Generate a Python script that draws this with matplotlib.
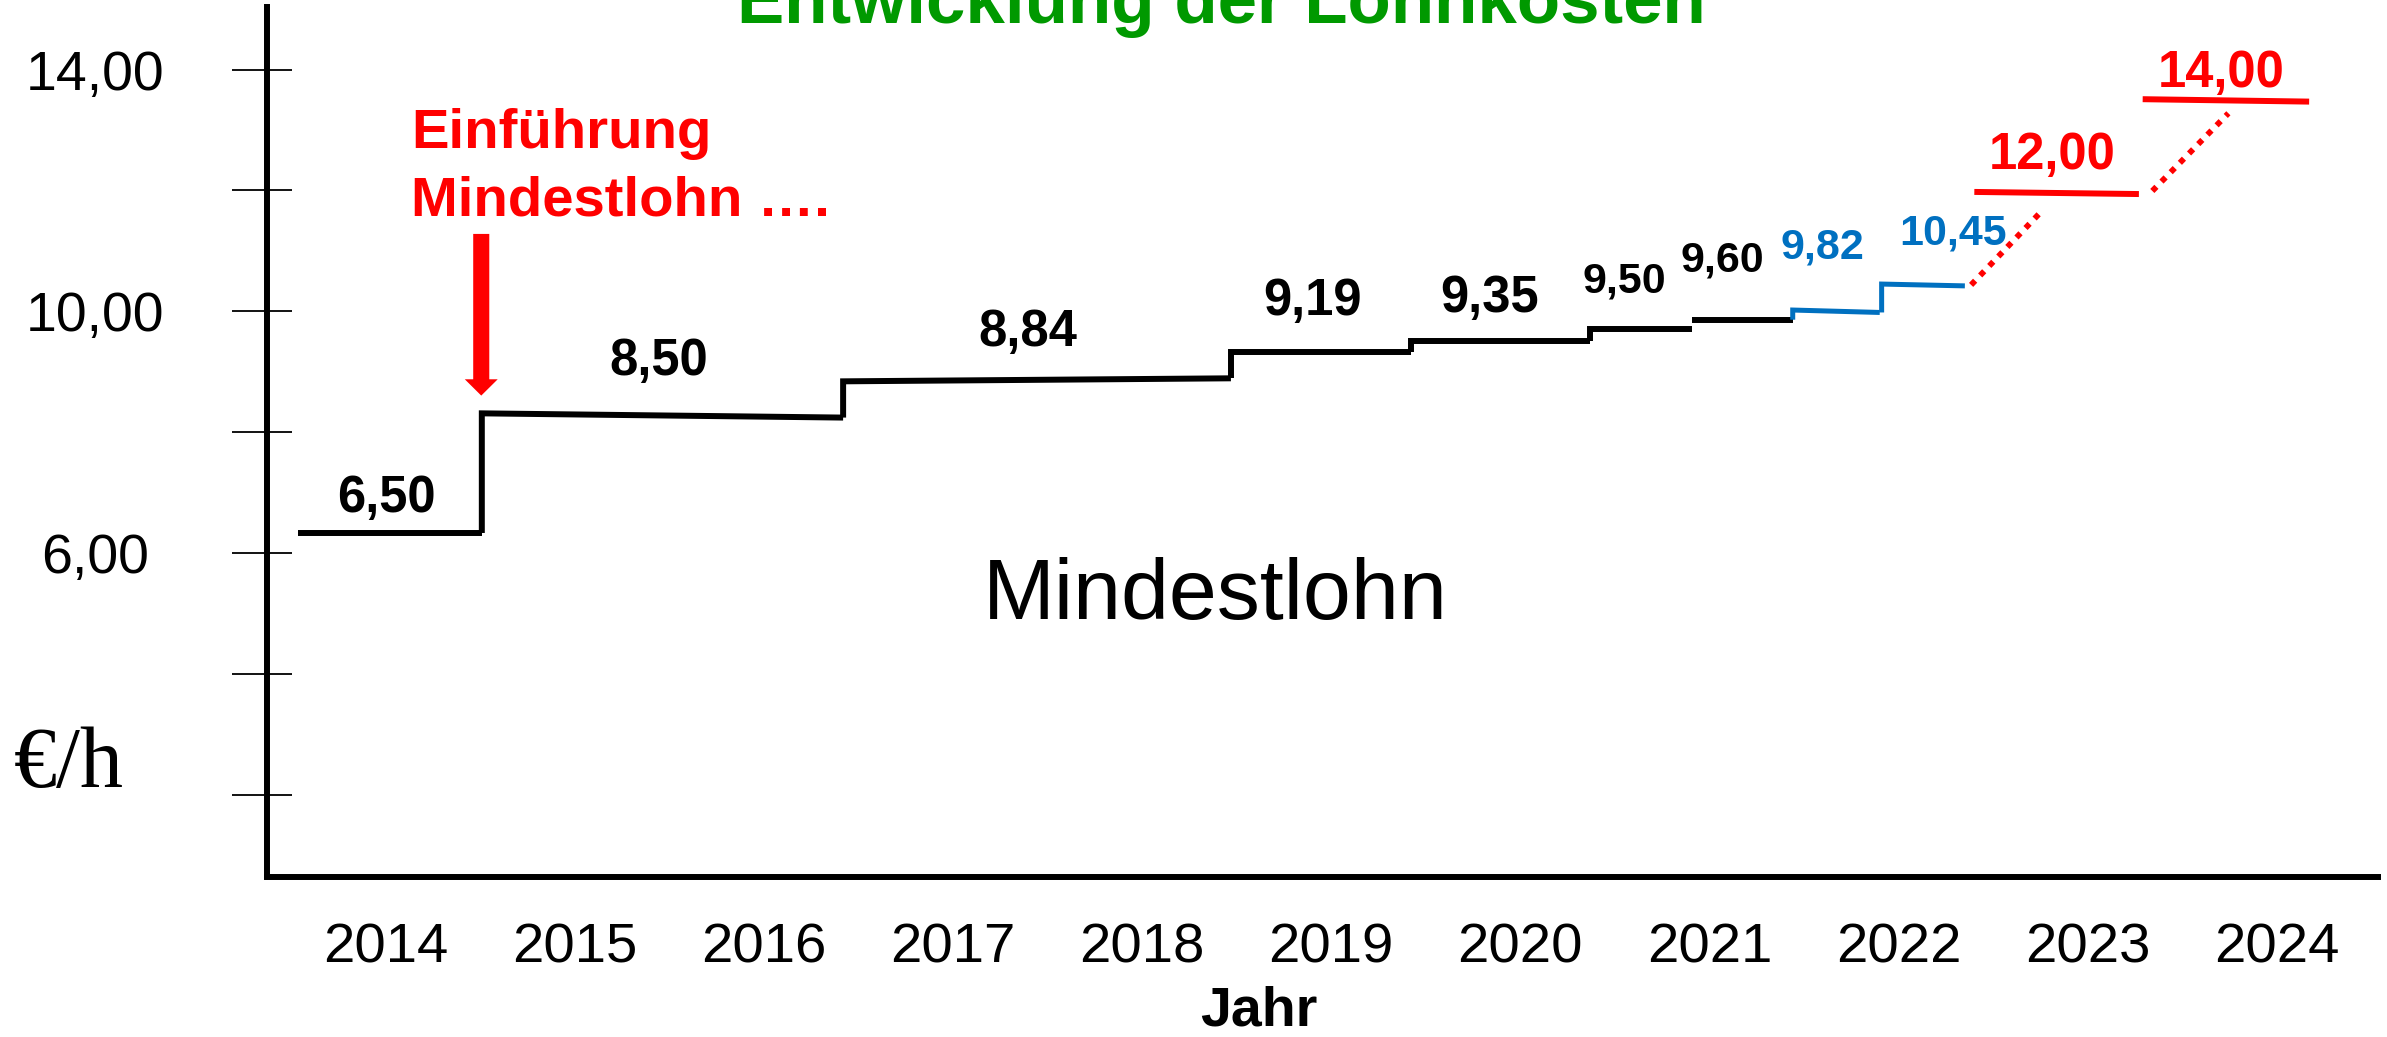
import matplotlib
matplotlib.use("Agg")
import matplotlib.pyplot as plt
import numpy as np

plt.rcParams['font.family'] = ['Liberation Sans', 'DejaVu Sans']

# ---------------- data ----------------
years = [2014, 2015, 2016, 2017, 2018, 2019, 2020, 2021, 2022, 2023, 2024]
year_labels = [str(y) for y in years]

# wage step segments (as drawn in the picture)
seg_x0 = [2013.54, 2014.51, 2016.42, 2018.47, 2019.42, 2020.37, 2020.91, 2021.44, 2021.91, 2022.40, 2023.29]
seg_x1 = [2014.51, 2016.42, 2018.47, 2019.42, 2020.37, 2020.91, 2021.44, 2021.90, 2022.35, 2023.27, 2024.17]
seg_y0 = [6.33, 8.31, 8.84, 9.33, 9.50, 9.71, 9.86, 10.02, 10.45, 11.975, 13.51]
seg_y1 = [6.33, 8.24, 8.89, 9.33, 9.50, 9.71, 9.86, 9.98, 10.42, 11.94, 13.47]
seg_joined = [False, True, True, True, True, True, False, True, True, False, False]
seg_group = ['past'] * 7 + ['recent'] * 2 + ['planned'] * 2
wage_labels = ['6,50', '8,50', '8,84', '9,19', '9,35', '9,50', '9,60', '9,82', '10,45', '12,00', '14,00']

# dotted ramps towards planned values
ramp_x0 = [2022.383, 2023.341]
ramp_x1 = [2022.762, 2023.743]
ramp_y0 = [10.436, 11.991]
ramp_y1 = [11.677, 13.277]

ytick_vals = [2, 4, 6, 8, 10, 12, 14]
ytick_labels = ['', '', '6,00', '', '10,00', '', '14,00']

# ---------------- styles / positions ----------------
colors = {'past': 'black', 'recent': '#0070C0', 'planned': '#FF0000'}
widths = {'past': 4.3, 'recent': 3.6, 'planned': 4.3}
label_x = [2014.008, 2015.447, 2017.396, 2018.903, 2019.840, 2020.548, 2021.067, 2021.595, 2022.288, 2022.813, 2023.707]
label_y = [6.679, 8.946, 9.433, 9.939, 9.994, 10.308, 10.656, 10.877, 11.109, 12.35, 13.72]
label_size = [36.5, 36.5, 36.5, 36.5, 36.5, 31, 31, 31, 31, 36.5, 36.5]

W, H = 2387, 1037
fig = plt.figure(figsize=(W / 100, H / 100), dpi=100)
ax = fig.add_axes([267.3 / W, 1 - 876.5 / H, (2378 - 267.3) / W, (876.5 - 7) / H])
ax.set_xlim(2013.376, 2024.534)
ax.set_ylim(0.644, 15.036)

for s in ['top', 'right']:
    ax.spines[s].set_visible(False)
for s in ['left', 'bottom']:
    ax.spines[s].set_linewidth(4.3)
    ax.spines[s].set_capstyle('projecting')

# y ticks: outer part as major ticks, inner part as minor ticks
ax.yaxis.remove_overlapping_locs = False
ax.set_yticks(ytick_vals)
ax.set_yticklabels(ytick_labels)
ax.set_yticks(ytick_vals, minor=True)
ax.tick_params(axis='y', which='major', direction='out', length=25.2, width=1.3,
               pad=98.8, labelsize=40, colors='black')
ax.tick_params(axis='y', which='minor', direction='in', length=18, width=1.3)
plt.setp(ax.get_yticklabels(), ha='center')

# x ticks
ax.set_xticks(years)
ax.set_xticklabels(year_labels)
ax.tick_params(axis='x', which='both', length=0, pad=33.3, labelsize=40.5)

ax.set_xlabel('Jahr', fontsize=40, fontweight='bold')
ax.xaxis.set_label_coords(0.4699, -0.125)
ax.xaxis.label.set_va('top')

# step segments
for i in range(len(seg_x0)):
    g = seg_group[i]
    xs = [seg_x0[i], seg_x1[i]]
    ys = [seg_y0[i], seg_y1[i]]
    if seg_joined[i]:
        xs = [seg_x0[i]] + xs
        ys = [seg_y1[i - 1]] + ys
    ax.plot(xs, ys, color=colors[g], lw=widths[g], solid_capstyle='butt',
            solid_joinstyle='miter')
    ax.text(label_x[i], label_y[i], wage_labels[i], ha='center', va='baseline',
            fontsize=label_size[i], fontweight='bold', color=colors[g])

for i in range(len(ramp_x0)):
    ax.plot([ramp_x0[i], ramp_x1[i]], [ramp_y0[i], ramp_y1[i]], color='#FF0000',
            lw=4.2, linestyle=(0, (1, 1.25)), dash_capstyle='butt')

# red arrow
ax.arrow(2014.507, 11.28, 0, 8.604 - 11.28, width=0.085, head_width=0.174,
         head_length=0.27, length_includes_head=True, color='#FF0000', lw=0)

ax.text(2014.137, 12.70, 'Einführung', fontsize=40.5, fontweight='bold',
        color='#FF0000', ha='left', va='baseline')
ax.text(2014.137, 11.58, 'Mindestlohn ….', fontsize=40.5, fontweight='bold',
        color='#FF0000', ha='left', va='baseline')

fig.text(1215 / W, 1 - 619 / H, 'Mindestlohn', fontsize=62, ha='center',
         va='baseline', color='black')
fig.text(69 / W, 1 - 787 / H, '€/h', fontsize=62, ha='center', va='baseline',
         family=['Liberation Serif', 'DejaVu Serif'])
fig.text(1221 / W, 1 - 23 / H, 'Entwicklung der Lohnkosten', fontsize=51,
         fontweight='bold', color='#009900', ha='center', va='baseline')

fig.savefig('out.png', dpi=100)
